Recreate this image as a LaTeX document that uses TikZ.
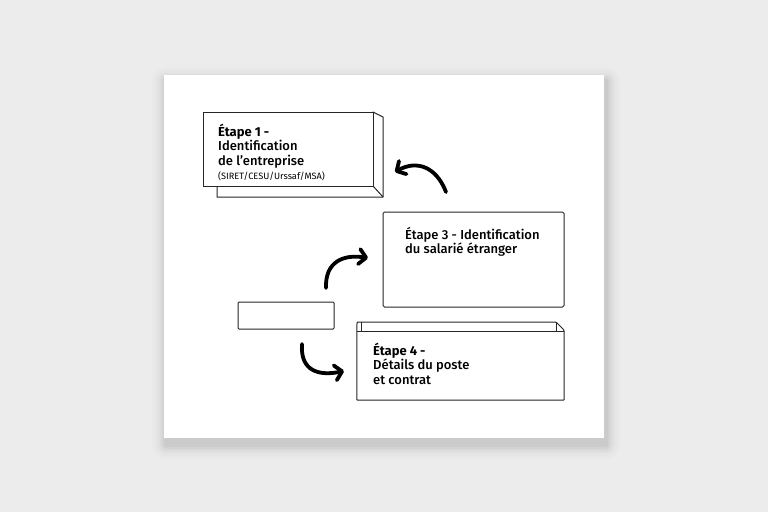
\documentclass[tikz,border=0pt]{standalone}
\usepackage{fontspec}
\setmainfont{Fira Sans}[UprightFont=* Medium, BoldFont=* Bold]
\newfontfamily\firareg{Fira Sans}
\usetikzlibrary{arrows.meta}
\definecolor{bg}{HTML}{ECECEC}
\begin{document}
\begin{tikzpicture}[x=1pt,y=-1pt,
  box/.style={draw=black!85,line width=1pt,fill=white,inner sep=0pt},
  edge/.style={draw=black!85,line width=1pt},
  txt/.style={anchor=north west,align=left,inner sep=0pt,font=\fontsize{13}{14.2}\selectfont},
  flow/.style={line width=3.8pt,line cap=round,-{Straight Barb[length=7pt,width=15pt,line width=3.8pt,line join=round,line cap=round]}}
]
\useasboundingbox (0,0) rectangle (768,512);
\fill[bg] (0,0) rectangle (768,512);
% card shadow
\foreach \i/\o in {14/0.012,11/0.015,8/0.02,6/0.025,4/0.03,2/0.035}{
  \fill[black,opacity=\o,rounded corners=\i pt] (164-\i+2,75-\i+6) rectangle (604+\i+2,438+\i+7);
}
\node[fill=white,minimum width=440pt,minimum height=363pt,inner sep=0pt] (card) at (384,256.5) {};
% box 1 (with depth)
\draw[edge,fill=white,line join=round] (217,186) -- (217,197) -- (383,197) -- (383,117) -- (373,112) -- (373,186) -- cycle;
\draw[edge] (373,186) -- (383,197);
\node[box,minimum width=170pt,minimum height=74pt] (b1) at (288,149) {};
\node[txt] (t1) at (218,124) {\textbf{Étape 1 -}\\Identification\\de l'entreprise\\{\firareg\fontsize{9.2}{11}\selectfont (SIRET/CESU/Urssaf/MSA)}};
% box 3
\node[box,rounded corners=1.5pt,minimum width=181pt,minimum height=95pt] (b3) at (473.5,259.5) {};
\node[txt] (t3) at (405,227) {Étape 3 - Identification\\du salarié étranger};
% box 4 (with top strip and chamfered corner)
\node[inner sep=0pt,minimum width=207pt,minimum height=78pt] (b4) at (460.5,361) {};
\draw[edge,fill=white,line join=round,rounded corners=0.8pt] (b4.south west) -- (357,322) -- (556,322) -- (564,330) -- (b4.south east) -- cycle;
\draw[edge] (357,331) -- (564,331);
\draw[edge] (361,322) -- (361,331);
\draw[edge] (556,322) -- (556,331);
\node[txt] (t4) at (373,343) {\textbf{Étape 4 -}\\Détails du poste\\et contrat};
% small empty box
\node[box,rounded corners=1pt,minimum width=96pt,minimum height=27pt] (s) at (286,315.5) {};
% connectors
\coordinate (a1s) at (446,192);
\coordinate (a1e) at (395,172);
\coordinate (a2s) at (326,288);
\coordinate (a2e) at (368,258);
\coordinate (a3s) at (302,344);
\coordinate (a3e) at (344,371);
\draw[flow] (a1s) .. controls (436,166) and (416,160) .. (a1e);
\draw[flow] (a2s) .. controls (325,262) and (343,254) .. (a2e);
\draw[flow] (a3s) .. controls (300,372) and (320,376) .. (a3e);
\end{tikzpicture}
\end{document}
